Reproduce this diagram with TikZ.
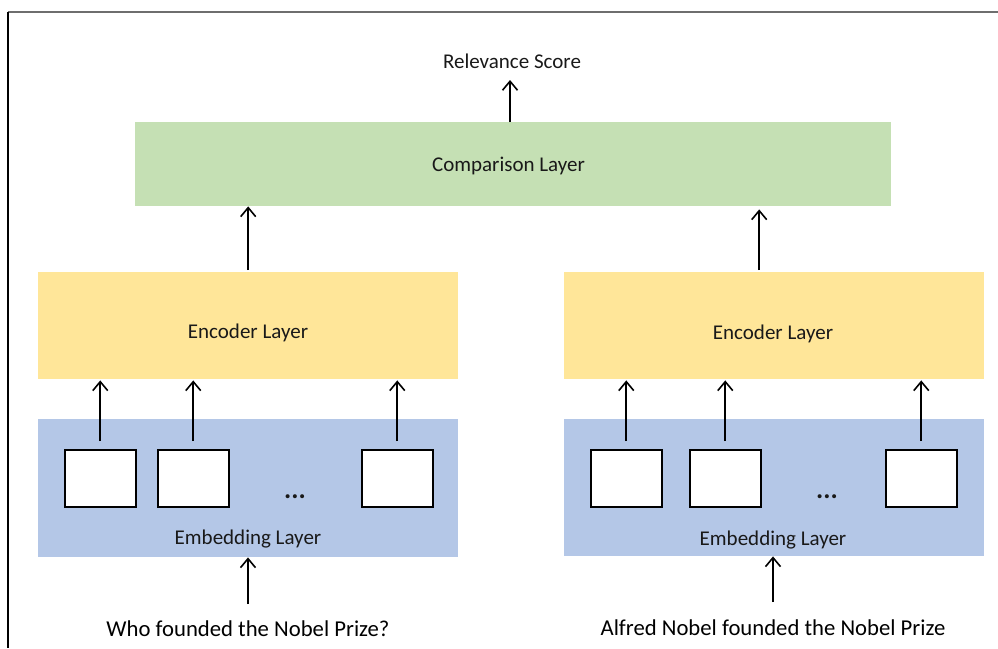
\documentclass[tikz,border=0pt]{standalone}
\usepackage{fontspec}
\setmainfont{Carlito}
\usetikzlibrary{arrows.meta}
\definecolor{cmpgreen}{HTML}{C5E0B4}
\definecolor{encyellow}{HTML}{FFE699}
\definecolor{embblue}{HTML}{B4C7E7}
\definecolor{framegray}{HTML}{6E6E6E}
\begin{document}
\begin{tikzpicture}[x=1pt,y=-1pt,
  layerbox/.style={draw=none, inner sep=0, anchor=north west},
  tok/.style={draw=black, line width=1.5pt, fill=white, minimum width=71pt, minimum height=57pt, anchor=north west, inner sep=0},
  arr/.style={line width=1.6pt, -{Straight Barb[length=9pt,width=15pt,line width=1.6pt]}},
  lbl/.style={font=\fontsize{21}{25}\selectfont, inner sep=0, text=black!90},
  big/.style={font=\fontsize{22.7}{27}\selectfont, inner sep=0, text=black},
  dotsty/.style={font=\fontsize{27}{30}\selectfont\bfseries, inner sep=0, text=black!90}]
\useasboundingbox (0,0) rectangle (998,648);
% frame
\draw[framegray, line width=1.8pt] (8,12) -- (998,12);
\draw[black, line width=1.5pt] (8,12) -- (8,648);

% layer boxes
\node[layerbox, fill=cmpgreen, minimum width=756pt, minimum height=84pt] (cmp) at (135,122) {};
\node[layerbox, fill=encyellow, minimum width=420pt, minimum height=107pt] (encL) at (38,272) {};
\node[layerbox, fill=encyellow, minimum width=420pt, minimum height=107pt] (encR) at (564,272) {};
\node[layerbox, fill=embblue, minimum width=420pt, minimum height=138pt] (embL) at (38,419) {};
\node[layerbox, fill=embblue, minimum width=420pt, minimum height=137pt] (embR) at (564,419) {};

% labels
\node[lbl] (rs) at (512,61) {Relevance Score};
\node[lbl] (cmpT) at (508.5,166) {Comparison Layer};
\node[lbl] (encLT) at (248,333) {Encoder Layer};
\node[lbl] (encRT) at (773,334) {Encoder Layer};
\node[lbl] (embLT) at (248,539) {Embedding Layer};
\node[lbl] (embRT) at (773,540) {Embedding Layer};
\node[big] (q) at (248,629) {Who founded the Nobel Prize?};
\node[big] (d) at (773,628) {Alfred Nobel founded the Nobel Prize};

% token boxes
\node[tok] (tl1) at (64,449) {};
\node[tok] (tl2) at (157,449) {};
\node[tok] (tl3) at (361,449) {};
\node[tok] (tr1) at (590,449) {};
\node[tok] (tr2) at (689,449) {};
\node[tok] (tr3) at (885,449) {};
\node[dotsty] (dotsL) at (295,497) {...};
\node[dotsty] (dotsR) at (827,497) {...};

% connectors
\coordinate (rsTip) at (510,80);
\draw[arr] (rsTip |- cmp.north) -- (rsTip);
\draw[arr] ([yshift=2pt]encL.north) -- (encL.north |- cmp.south);
\draw[arr, shorten >=3pt] ([xshift=-15pt,yshift=2pt]encR.north) -- ([xshift=-15pt]encR.north |- cmp.south);
\foreach \t/\e in {tl1/encL, tl2/encL, tl3/encL, tr1/encR, tr2/encR, tr3/encR}{
  \draw[arr] ([yshift=8pt]\t.north) -- ([yshift=-1pt]\t.north |- \e.south);
}
\coordinate (qS) at (248,604);
\coordinate (dS) at (773,602);
\draw[arr] (qS) -- (qS |- embL.south);
\draw[arr] (dS) -- (dS |- embR.south);
\end{tikzpicture}
\end{document}
